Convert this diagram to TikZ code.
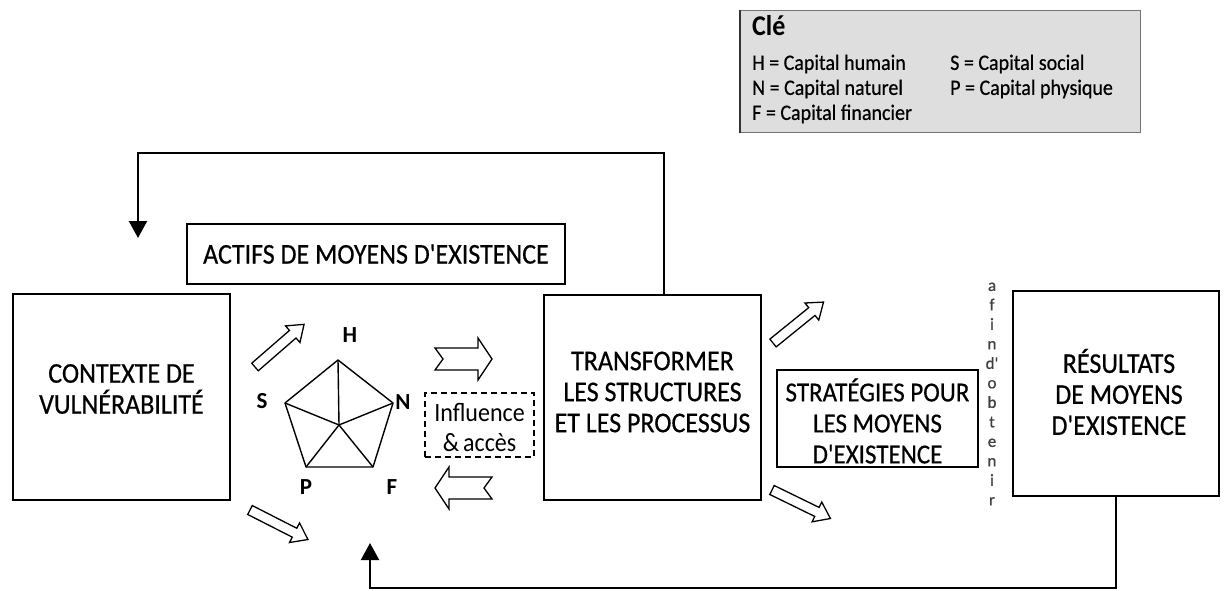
\documentclass[tikz,border=0pt]{standalone}
\usepackage{fontspec}
\usepackage{graphicx}
\setmainfont{Carlito}
\newfontfamily\labfont{Carlito}[FakeBold=0.6]
\newcommand\T[1]{\scalebox{1}[1.1]{#1}}
\usetikzlibrary{arrows.meta}
\begin{document}
\begin{tikzpicture}[x=1pt,y=-1pt,
  box/.style={draw=black, line width=1.4pt, inner sep=0pt},
  lbl/.style={align=center, font=\labfont\fontsize{26}{31}\selectfont, inner sep=0pt},
  fb/.style={draw=black, line width=2pt, -{Triangle[width=18pt,length=17pt]}},
  pent/.style={line width=1.4pt, line join=round},
  plab/.style={font=\bfseries\fontsize{23}{23}\selectfont, inner sep=0pt},
  keytxt/.style={font=\labfont\fontsize{20}{20}\selectfont, anchor=west, inner sep=0pt},
  hollow/.pic={\draw[line width=1.3pt, fill=white, line join=miter] (0,-5) -- (50,-5) -- (50,-11) -- (65,0) -- (50,11) -- (50,5) -- (0,5) -- cycle;},
  notched/.pic={\draw[line width=1.3pt, fill=white, line join=miter] (0,-11) -- (43,-11) -- (43,-21) -- (57,0) -- (43,21) -- (43,11) -- (0,11) -- (8,0) -- cycle;}
]
\useasboundingbox (0,0) rectangle (1224,590);
\fill[white] (0,0) rectangle (1224,590);

% key
\node[draw=black!55, fill=black!13, line width=0.8pt, minimum width=400pt, minimum height=122pt, inner sep=0pt, anchor=north west] (key) at (740,10) {};
\draw[line width=2.2pt, black!80] (key.north west) -- (key.south west);
\node[font=\bfseries\fontsize{26}{26}\selectfont, anchor=west, inner sep=0pt] (kc) at (752,26) {\T{Clé}};
\node[keytxt] (k1) at (752,64) {\T{H = Capital humain}};
\node[keytxt] (k2) at (752,89) {\T{N = Capital naturel}};
\node[keytxt] (k3) at (752,114) {\T{F = Capital financier}};
\node[keytxt] (k4) at (950,64) {\T{S = Capital social}};
\node[keytxt] (k5) at (950,89) {\T{P = Capital physique}};

% main boxes
\node[box, minimum width=217pt, minimum height=206pt] (ctx) at (121.5,397) {};
\node[lbl] (ctxt) at (121.5,389) {\T{CONTEXTE DE}\\\T{VULNÉRABILITÉ}};
\node[box, minimum width=378pt, minimum height=60pt] (act) at (376,254) {};
\node[lbl] (actt) at (376,254) {\T{ACTIFS DE MOYENS D'EXISTENCE}};
\node[box, minimum width=217pt, minimum height=205pt] (trans) at (652.5,397.5) {};
\node[lbl] (transt) at (652.5,392) {\T{TRANSFORMER}\\\T{LES STRUCTURES}\\\T{ET LES PROCESSUS}};
\node[box, minimum width=201pt, minimum height=97pt] (strat) at (877.5,418.5) {};
\node[lbl, font=\labfont\fontsize{25}{31}\selectfont] (stratt) at (877.5,421) {\T{STRATÉGIES POUR}\\\T{LES MOYENS}\\\T{D'EXISTENCE}};
\node[box, minimum width=206pt, minimum height=205pt] (res) at (1116,393.5) {};
\node[lbl] (rest) at (1119,392) {\T{RÉSULTATS}\\\T{DE MOYENS}\\\T{D'EXISTENCE}};
\node[draw=black, line width=1.4pt, dash pattern=on 6pt off 4pt, minimum width=109pt, minimum height=64pt, inner sep=0pt] (infl) at (479.5,425) {};
\node[align=center, font=\fontsize{24}{30}\selectfont, inner sep=0pt] (inflt) at (479.5,428) {\T{Influence}\\\T{\&\,accès}};

% afin d'obtenir
\node[align=center, font=\labfont\fontsize{17}{19.5}\selectfont, inner sep=0pt, text=black!75] (afin) at (992,394) {a\\f\\i\\n\\d'\\o\\b\\t\\e\\n\\i\\r};

% pentagon
\coordinate (pH) at (338,360);
\coordinate (pS) at (285,403);
\coordinate (pN) at (393,403);
\coordinate (pP) at (306,467);
\coordinate (pF) at (373,467);
\coordinate (pC) at (339,425);
\draw[pent] (pH) -- (pN) -- (pF) -- (pP) -- (pS) -- cycle;
\foreach \v in {pH,pN,pF,pP,pS} \draw[pent] (pC) -- (\v);
\node[plab] (lH) at (350,335) {H};
\node[plab] (lS) at (262,401) {S};
\node[plab] (lN) at (403,402) {N};
\node[plab] (lP) at (306,487) {P};
\node[plab] (lF) at (392,487) {F};

% hollow arrows
\pic[rotate=41] at (255,367) {hollow};
\pic[rotate=-27] at (250,510) {hollow};
\pic[rotate=39] at (773,343) {hollow};
\pic[rotate=-26] at (772,490) {hollow};
\pic at (435,359) {notched};
\pic[rotate=180] at (492,488) {notched};

% feedback loops
\coordinate (t1) at (664,153);
\coordinate (t2) at (138,153);
\coordinate (t3) at (138,238);
\draw[fb] (t1 |- trans.north) -- (t1) -- (t2) -- (t3);
\coordinate (b1) at (1116,588);
\coordinate (b2) at (370,588);
\coordinate (b3) at (370,543);
\draw[fb] (b1 |- res.south) -- (b1) -- (b2) -- (b3);
\end{tikzpicture}
\end{document}
